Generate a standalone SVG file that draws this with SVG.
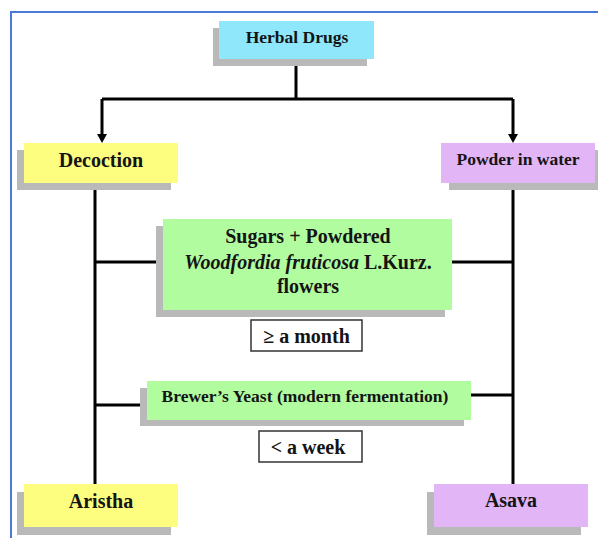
<svg xmlns="http://www.w3.org/2000/svg" width="598" height="538" viewBox="0 0 598 538">
<style>
.sh{fill:#b9b9b9}
.t{font-family:"Liberation Serif","Times New Roman",serif;font-weight:bold;fill:#141414;text-anchor:middle}
.ln{stroke:#000;stroke-width:3;fill:none}
.lab{fill:#fff;stroke:#333;stroke-width:1.5}
</style>
<defs>
<marker id="ah" markerUnits="userSpaceOnUse" markerWidth="9" markerHeight="10" viewBox="0 0 9 10" refX="0.5" refY="5" orient="auto">
<path d="M0,0 L9,5 L0,10 Z" fill="#000"/>
</marker>
</defs>
<rect width="598" height="538" fill="#fff"/>
<rect x="11" y="12" width="600" height="540" fill="none" stroke="#4a7ad8" stroke-width="2"/>
<g id="connectors">
<path class="ln" d="M296,59 V99"/>
<path class="ln" d="M102,99 H513"/>
<path class="ln" d="M102,99 V134.5" marker-end="url(#ah)"/>
<path class="ln" d="M513,99 V134.5" marker-end="url(#ah)"/>
<path class="ln" d="M95,183 V484"/>
<path class="ln" d="M513,183 V484"/>
<path class="ln" d="M95,262 H163"/>
<path class="ln" d="M452,262 H513"/>
<path class="ln" d="M95,405 H147"/>
<path class="ln" d="M471,395 H513"/>
</g>
<g id="herbal-drugs">
<rect class="sh" x="213" y="28" width="154" height="38"/>
<rect x="219" y="21" width="155" height="38" fill="#8ee7fb"/>
<text class="t" x="297" y="43" font-size="17.5">Herbal Drugs</text>
</g>
<g id="decoction">
<rect class="sh" x="17" y="150" width="154" height="40"/>
<rect x="24" y="143" width="154" height="40" fill="#fdfd80"/>
<text class="t" x="101" y="167" font-size="20">Decoction</text>
</g>
<g id="powder-in-water">
<rect class="sh" x="449" y="150" width="154" height="40"/>
<rect x="441" y="143" width="154" height="40" fill="#e2b5f7"/>
<text class="t" x="518" y="165" font-size="17.5">Powder in water</text>
</g>
<g id="sugars">
<rect class="sh" x="156" y="226" width="289" height="91"/>
<rect x="163" y="219" width="289" height="91" fill="#b2fca0"/>
<text class="t" x="308" y="243" font-size="20">Sugars + Powdered</text>
<text class="t" x="308" y="269" font-size="20"><tspan font-style="italic">Woodfordia fruticosa</tspan> L.Kurz.</text>
<text class="t" x="308" y="293" font-size="20">flowers</text>
</g>
<g id="month">
<rect class="lab" x="251" y="320" width="111" height="31"/>
<text class="t" x="306.5" y="343" font-size="20">≥ a month</text>
</g>
<g id="brewers-yeast">
<rect class="sh" x="140" y="388" width="324" height="38"/>
<rect x="147" y="381" width="324" height="39" fill="#b2fca0"/>
<text class="t" x="305" y="402" font-size="17.5">Brewer’s Yeast (modern fermentation)</text>
</g>
<g id="week">
<rect class="lab" x="259" y="431" width="103" height="31"/>
<text class="t" x="308" y="454" font-size="20">&lt; a week</text>
</g>
<g id="aristha">
<rect class="sh" x="17" y="492" width="154" height="43"/>
<rect x="24" y="484" width="154" height="43" fill="#fdfd80"/>
<text class="t" x="101" y="508" font-size="20">Aristha</text>
</g>
<g id="asava">
<rect class="sh" x="427" y="492" width="154" height="43"/>
<rect x="434" y="484" width="154" height="43" fill="#e2b5f7"/>
<text class="t" x="511" y="507" font-size="20">Asava</text>
</g>
</svg>
